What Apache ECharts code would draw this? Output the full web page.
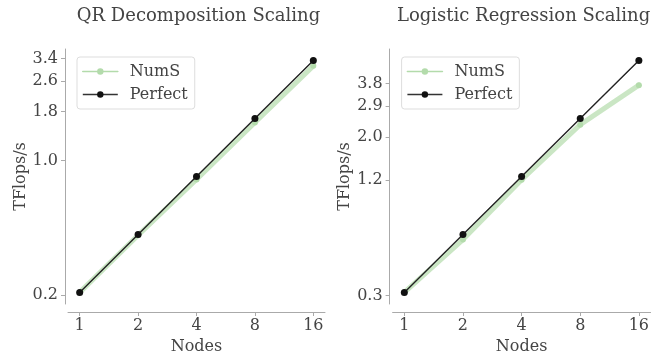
<!DOCTYPE html>
<html>
<head>
<meta charset="utf-8">
<script src="https://cdn.jsdelivr.net/npm/echarts@6/dist/echarts.min.js"></script>
<style>
html, body { margin: 0; padding: 0; background: #fff; }
#chart { width: 664px; height: 354px; }
</style>
</head>
<body>
<div id="chart"></div>
<script>
var nodes = [1, 2, 4, 8, 16];
var qrNums = [0.207, 0.41, 0.80, 1.58, 3.11];
var qrPerfect = [0.207, 0.414, 0.828, 1.656, 3.312];
var lrNums = [0.312, 0.587, 1.20, 2.32, 3.72];
var lrPerfect = [0.312, 0.624, 1.248, 2.496, 4.992];
var qrTicks = [0.2, 1.0, 1.8, 2.6, 3.4];
var lrTicks = [0.3, 1.2, 2.0, 2.9, 3.8];
var titles = ['QR Decomposition Scaling', 'Logistic Regression Scaling'];

var FONT = 'DejaVu Serif';
var TEXT = '#444';
var SPINE = '#aaa';
var GREEN = '#b3dbab';

// matplotlib-like 5% margin, in log space
function logRange(vals) {
    var lo = Math.log(Math.min.apply(null, vals));
    var hi = Math.log(Math.max.apply(null, vals));
    var pad = (hi - lo) * 0.05;
    return [Math.exp(lo - pad), Math.exp(hi + pad)];
}

function pairs(xs, ys) {
    var out = [];
    for (var i = 0; i < xs.length; i++) out.push([xs[i], ys[i]]);
    return out;
}

var grids = [
    {left: 68, top: 49, width: 257, height: 255, containLabel: false, outerBoundsMode: 'none'},
    {left: 392.6, top: 49, width: 258, height: 255, containLabel: false, outerBoundsMode: 'none'}
];
var ticksets = [qrTicks, lrTicks];
var sets = [[qrNums, qrPerfect], [lrNums, lrPerfect]];

var option = {
    animation: false,
    backgroundColor: '#fff',
    textStyle: {fontFamily: FONT},
    title: [],
    legend: [],
    grid: grids,
    xAxis: [],
    yAxis: [],
    series: []
};

for (var g = 0; g < 2; g++) {
    var yr = logRange(sets[g][0].concat(sets[g][1]));
    option.title.push({
        text: titles[g],
        left: grids[g].left + grids[g].width / 2 - 3,
        textAlign: 'center',
        top: 2,
        textStyle: {fontFamily: FONT, fontSize: 18, fontWeight: 'normal', color: TEXT}
    });
    option.legend.push({
        left: grids[g].left + 9,
        top: 57,
        orient: 'vertical',
        data: [
            {name: 'NumS', lineStyle: {width: 1.6, opacity: 1, color: GREEN}},
            {name: 'Perfect', lineStyle: {width: 1.4, color: '#333'}}
        ],
        seriesIndex: [g * 2, g * 2 + 1],
        itemWidth: 35,
        itemHeight: 8,
        itemGap: 4,
        padding: [5, 7, 5, 5],
        borderColor: '#ddd',
        borderWidth: 1,
        borderRadius: 3,
        backgroundColor: 'rgba(255,255,255,0.8)',
        textStyle: {fontFamily: FONT, fontSize: 16, color: TEXT, lineHeight: 19, padding: [0, 0, 0, 7]}
    });
    option.xAxis.push({
        type: 'log',
        logBase: 2,
        gridIndex: g,
        min: Math.pow(2, -0.2),
        max: Math.pow(2, 4.2),
        offset: 8,
        name: 'Nodes',
        nameLocation: 'middle',
        nameGap: 20,
        nameTextStyle: {fontFamily: FONT, fontSize: 16, color: TEXT, verticalAlign: 'top'},
        axisLine: {lineStyle: {color: SPINE, width: 1}},
        axisTick: {customValues: nodes, length: 4, lineStyle: {color: SPINE}},
        axisLabel: {customValues: nodes, fontFamily: FONT, fontSize: 16, color: TEXT, margin: 6},
        splitLine: {show: false},
        minorTick: {show: false}
    });
    option.yAxis.push({
        type: 'log',
        gridIndex: g,
        min: yr[0],
        max: yr[1],
        offset: 3,
        name: 'TFlops/s',
        nameLocation: 'middle',
        nameGap: 36,
        nameTextStyle: {fontFamily: FONT, fontSize: 16, color: TEXT},
        axisLine: {show: true, lineStyle: {color: SPINE, width: 1}},
        axisTick: {show: true, customValues: ticksets[g], length: 4, lineStyle: {color: SPINE}},
        axisLabel: {
            customValues: ticksets[g], fontFamily: FONT, fontSize: 16, color: TEXT, margin: 7,
            formatter: function (v) { return Number(v).toFixed(1); }
        },
        splitLine: {show: false},
        minorTick: {show: false}
    });
    option.series.push({
        name: 'NumS',
        type: 'line',
        xAxisIndex: g,
        yAxisIndex: g,
        data: pairs(nodes, sets[g][0]),
        symbol: 'circle',
        symbolSize: 6,
        color: GREEN,
        lineStyle: {width: 5, color: GREEN, opacity: 0.7, cap: 'round'},
        itemStyle: {color: GREEN},
        z: 2
    });
    option.series.push({
        name: 'Perfect',
        type: 'line',
        xAxisIndex: g,
        yAxisIndex: g,
        data: pairs(nodes, sets[g][1]),
        symbol: 'circle',
        symbolSize: 7,
        color: '#111',
        lineStyle: {width: 1.4, color: '#222'},
        itemStyle: {color: '#111'},
        z: 3
    });
}

var chart = echarts.init(document.getElementById('chart'), null, {renderer: 'canvas'});
chart.setOption(option);
</script>
</body>
</html>
